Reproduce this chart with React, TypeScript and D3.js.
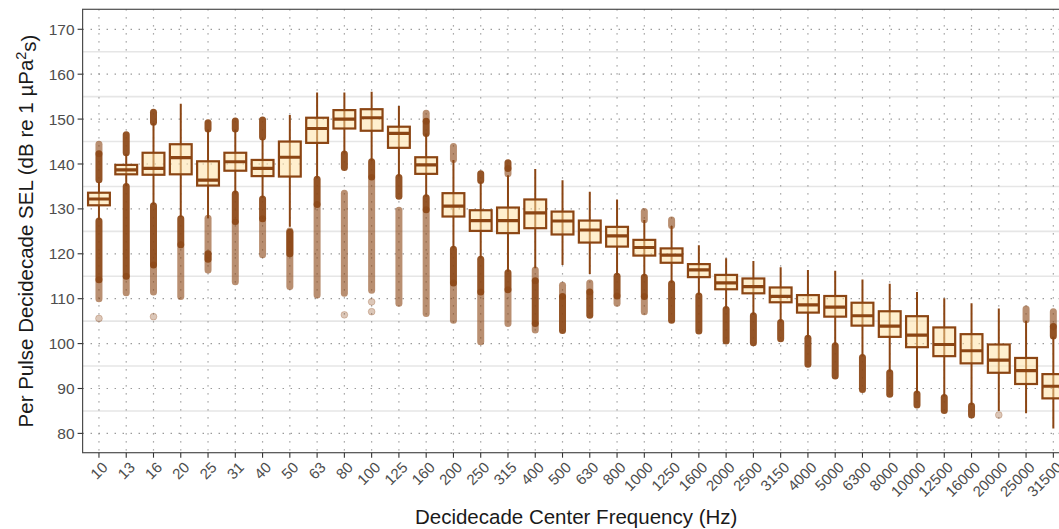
import React from "react";
import * as d3 from "d3";

// decidecade bands and per-band box statistics (dB)
const categories = ["10", "13", "16", "20", "25", "31", "40", "50", "63", "80", "100", "125", "160", "200", "250", "315", "400", "500", "630", "800", "1000", "1250", "1600", "2000", "2500", "3150", "4000", "5000", "6300", "8000", "10000", "12500", "16000", "20000", "25000", "31500"];
const whiskerLow = [127.5, 135.1, 130.9, 128.2, 127.9, 133.5, 132.4, 126.0, 136.8, 142.4, 140.7, 137.2, 132.7, 121.2, 119.0, 116.0, 116.8, 117.5, 115.5, 115.3, 115.0, 113.5, 110.8, 107.8, 106.4, 104.9, 101.4, 99.7, 97.1, 93.7, 89.0, 88.2, 86.3, 85.0, 84.5, 81.1];
const q1 = [130.8, 137.7, 137.6, 137.7, 135.2, 138.5, 137.3, 137.2, 144.7, 147.9, 147.4, 143.6, 137.8, 128.3, 125.1, 124.6, 125.7, 124.3, 122.5, 121.6, 119.6, 118.0, 114.8, 112.1, 111.2, 109.2, 106.9, 106.0, 104.0, 101.5, 99.2, 97.2, 95.6, 93.5, 91.0, 87.8];
const median = [132.2, 138.7, 139.0, 141.4, 136.4, 140.5, 139.0, 141.5, 147.9, 150.0, 150.3, 146.8, 139.8, 130.6, 127.4, 127.4, 129.1, 127.3, 125.3, 124.0, 121.4, 119.7, 116.4, 113.5, 112.7, 110.5, 108.6, 108.1, 106.2, 103.9, 101.9, 99.8, 98.4, 96.3, 94.0, 90.5];
const q3 = [133.6, 139.8, 142.5, 144.4, 140.6, 142.5, 140.9, 145.0, 150.3, 152.0, 152.2, 148.3, 141.5, 133.5, 129.7, 130.3, 132.1, 129.4, 127.4, 126.0, 123.1, 121.2, 117.7, 115.3, 114.5, 112.5, 110.8, 110.6, 109.1, 107.2, 106.1, 103.6, 102.1, 99.8, 96.8, 93.2];
const whiskerHigh = [136.0, 142.2, 149.1, 153.4, 147.6, 147.6, 145.7, 150.9, 155.9, 155.9, 156.1, 152.9, 146.8, 140.9, 136.1, 137.5, 138.9, 136.4, 133.8, 132.1, 127.5, 126.2, 121.9, 119.0, 118.4, 117.0, 116.4, 116.2, 114.3, 113.3, 111.5, 110.1, 109.0, 107.8, 105.1, 101.5];

// outliers: heavily overplotted runs [band, from, to], sparse runs, single points
const denseOutliers: [string, number, number][] = [
  ["10", 136.5, 142.3], ["10", 114.2, 127.3],
  ["13", 142.5, 146.5], ["13", 115, 135],
  ["16", 149.3, 151.5], ["16", 117.5, 130.7],
  ["20", 122, 127.8],
  ["25", 147.8, 149.2], ["25", 118.8, 120],
  ["31", 147.8, 149.6], ["31", 127.2, 133.3],
  ["40", 146, 149.8], ["40", 127.8, 132.2],
  ["50", 120, 124.8],
  ["63", 131, 136.6],
  ["80", 139.2, 142.2],
  ["100", 137.1, 140.5],
  ["125", 132.8, 137],
  ["160", 146.8, 149.5], ["160", 129.8, 132.5],
  ["200", 113.5, 121],
  ["250", 136.3, 137.8], ["250", 111.5, 118.8],
  ["315", 139, 140.3], ["315", 112, 115.8],
  ["400", 104.5, 114],
  ["500", 102.9, 110.5],
  ["630", 106.3, 111.5],
  ["800", 110.6, 115],
  ["1000", 110.5, 114.8],
  ["1250", 105.2, 113.3],
  ["1600", 102.8, 110.6],
  ["2000", 100.6, 107.6],
  ["2500", 100.2, 106.2],
  ["3150", 101.1, 104.7],
  ["4000", 95.4, 101.2],
  ["5000", 92.8, 99.5],
  ["6300", 89.8, 96.9],
  ["8000", 88.7, 93.5],
  ["10000", 86.3, 88.8],
  ["12500", 85.1, 88],
  ["16000", 84.1, 86.1],
  ["31500", 101.7, 103.8],
];
const sparseOutliers: [string, number, number][] = [
  ["10", 142.3, 144.4], ["10", 110, 114.2],
  ["13", 111.3, 115],
  ["16", 111.5, 117.5],
  ["20", 110.5, 122],
  ["25", 116.4, 127.9],
  ["31", 113.8, 127],
  ["40", 119.8, 127.8],
  ["50", 112.7, 125.1],
  ["63", 110.8, 131],
  ["80", 111.2, 133.5],
  ["100", 111.9, 137],
  ["125", 109, 129.7],
  ["160", 149.5, 151.3], ["160", 106.7, 129.8],
  ["200", 141, 143.9], ["200", 105.2, 113.5],
  ["250", 100.4, 111.5],
  ["315", 137.8, 139], ["315", 104.5, 112],
  ["400", 103, 104.5], ["400", 114, 116.4],
  ["500", 110.5, 113],
  ["630", 111.5, 113.5],
  ["800", 109, 110.6],
  ["1000", 127.6, 129.4], ["1000", 107.1, 110.5],
  ["1250", 126.3, 127.5],
  ["25000", 105.3, 107.7],
  ["31500", 103.8, 107.1],
];
const singleOutliers: [string, number][] = [
  ["10", 105.6], ["16", 106.0], ["80", 106.4], ["100", 109.3], ["100", 107.1], ["20000", 84.1],
];

const yTicks = [80, 90, 100, 110, 120, 130, 140, 150, 160, 170];
const yMinor = [85, 95, 105, 115, 125, 135, 145, 155, 165];

const BROWN = "#8B4513";

const App = () => {
  const svgRef = React.useRef(null);
  const width = 1059;
  const height = 529;
  const panel = { left: 82.6, right: 1069.7, top: 9.3, bottom: 452.7 };

  React.useEffect(() => {
    const x = d3.scalePoint().domain(categories).range([panel.left, panel.right]).padding(0.6);
    const y = d3.scaleLinear().domain([75.7, 174.45]).range([panel.bottom, panel.top]);
    const boxW = x.step() * 0.8;

    const svgEl = d3.select(svgRef.current);
    svgEl.selectAll("*").remove();
    const font = "'Liberation Sans', Arial, Helvetica, sans-serif";

    const clip = svgEl.append("defs").append("clipPath").attr("id", "panel-clip");
    clip.append("rect")
      .attr("x", panel.left).attr("y", panel.top)
      .attr("width", panel.right - panel.left).attr("height", panel.bottom - panel.top);

    // grid
    const grid = svgEl.append("g");
    grid.selectAll(".minor").data(yMinor).enter().append("line")
      .attr("x1", panel.left).attr("x2", panel.right)
      .attr("y1", (d) => y(d)).attr("y2", (d) => y(d))
      .attr("stroke", "#E6E6E6").attr("stroke-width", 1.6);
    grid.selectAll(".major").data(yTicks).enter().append("line")
      .attr("x1", panel.left).attr("x2", panel.right)
      .attr("y1", (d) => y(d)).attr("y2", (d) => y(d))
      .attr("stroke", "#8F8F8F").attr("stroke-width", 1.2)
      .attr("stroke-dasharray", "1.3,6.7");
    grid.selectAll(".vmajor").data(categories).enter().append("line")
      .attr("x1", (d) => x(d)).attr("x2", (d) => x(d))
      .attr("y1", panel.top).attr("y2", panel.bottom)
      .attr("stroke", "#8F8F8F").attr("stroke-width", 1.2)
      .attr("stroke-dasharray", "1.3,6.7");

    const plot = svgEl.append("g").attr("clip-path", "url(#panel-clip)");

    // outliers first (ggplot order)
    plot.selectAll(".sparse").data(sparseOutliers).enter().append("line")
      .attr("x1", (d) => x(d[0])).attr("x2", (d) => x(d[0]))
      .attr("y1", (d) => y(d[1])).attr("y2", (d) => y(d[2]))
      .attr("stroke", BROWN).attr("stroke-opacity", 0.6)
      .attr("stroke-width", 7).attr("stroke-linecap", "round");
    plot.selectAll(".dense").data(denseOutliers).enter().append("line")
      .attr("x1", (d) => x(d[0])).attr("x2", (d) => x(d[0]))
      .attr("y1", (d) => y(d[1])).attr("y2", (d) => y(d[2]))
      .attr("stroke", BROWN).attr("stroke-opacity", 0.92)
      .attr("stroke-width", 7).attr("stroke-linecap", "round");
    plot.selectAll(".single").data(singleOutliers).enter().append("circle")
      .attr("cx", (d) => x(d[0])).attr("cy", (d) => y(d[1])).attr("r", 3.4)
      .attr("fill", BROWN).attr("fill-opacity", 0.3)
      .attr("stroke", BROWN).attr("stroke-opacity", 0.25);

    // whiskers
    plot.selectAll(".whisker").data(categories).enter().append("line")
      .attr("x1", (d) => x(d)).attr("x2", (d) => x(d))
      .attr("y1", (d, i) => y(whiskerLow[i])).attr("y2", (d, i) => y(whiskerHigh[i]))
      .attr("stroke", BROWN).attr("stroke-width", 2);

    // boxes
    plot.selectAll(".box").data(categories).enter().append("rect")
      .attr("x", (d) => x(d) - boxW / 2).attr("width", boxW)
      .attr("y", (d, i) => y(q3[i])).attr("height", (d, i) => y(q1[i]) - y(q3[i]))
      .attr("fill", "#FFDF9E").attr("fill-opacity", 0.5)
      .attr("stroke", BROWN).attr("stroke-width", 2.2);
    plot.selectAll(".median").data(categories).enter().append("line")
      .attr("x1", (d) => x(d) - boxW / 2).attr("x2", (d) => x(d) + boxW / 2)
      .attr("y1", (d, i) => y(median[i])).attr("y2", (d, i) => y(median[i]))
      .attr("stroke", BROWN).attr("stroke-width", 3.2);

    // panel border
    svgEl.append("rect")
      .attr("x", panel.left).attr("y", panel.top)
      .attr("width", panel.right - panel.left).attr("height", panel.bottom - panel.top)
      .attr("fill", "none").attr("stroke", "#4D4D4D").attr("stroke-width", 1.2);

    // y axis
    const yAxis = svgEl.append("g");
    yAxis.selectAll("line").data(yTicks).enter().append("line")
      .attr("x1", panel.left - 5).attr("x2", panel.left)
      .attr("y1", (d) => y(d)).attr("y2", (d) => y(d))
      .attr("stroke", "#333").attr("stroke-width", 1.1);
    yAxis.selectAll("text").data(yTicks).enter().append("text")
      .attr("x", panel.left - 8).attr("y", (d) => y(d))
      .attr("dy", "0.36em").attr("text-anchor", "end")
      .attr("font-family", font).attr("font-size", 15.5).attr("fill", "#4D4D4D")
      .text((d) => d);

    // x axis
    const xAxis = svgEl.append("g");
    xAxis.selectAll("line").data(categories).enter().append("line")
      .attr("x1", (d) => x(d)).attr("x2", (d) => x(d))
      .attr("y1", panel.bottom).attr("y2", panel.bottom + 5)
      .attr("stroke", "#333").attr("stroke-width", 1.1);
    xAxis.selectAll("text").data(categories).enter().append("text")
      .attr("transform", (d) => `translate(${x(d) + 2},${panel.bottom + 8}) rotate(-45)`)
      .attr("dy", "0.72em").attr("text-anchor", "end")
      .attr("font-family", font).attr("font-size", 15).attr("fill", "#4D4D4D")
      .text((d) => d);

    // titles
    svgEl.append("text")
      .attr("x", (panel.left + panel.right) / 2).attr("y", 524)
      .attr("text-anchor", "middle")
      .attr("font-family", font).attr("font-size", 20.5).attr("fill", "#1A1A1A")
      .text("Decidecade Center Frequency (Hz)");

    const yTitle = svgEl.append("text")
      .attr("transform", `translate(33,${(panel.top + panel.bottom) / 2}) rotate(-90)`)
      .attr("text-anchor", "middle")
      .attr("font-family", font).attr("font-size", 20.5).attr("fill", "#1A1A1A");
    yTitle.append("tspan").text("Per Pulse Decidecade SEL (dB re 1 µPa");
    yTitle.append("tspan").attr("dy", "-0.45em").attr("font-size", 14.5).text("2");
    yTitle.append("tspan").attr("dy", "0.45em").text("s)");
  }, []);

  return (
    <svg
      ref={svgRef}
      width={width}
      height={height}
      style={{ position: "absolute", left: 0, top: 0, background: "#fff" }}
    />
  );
};

export default App;
